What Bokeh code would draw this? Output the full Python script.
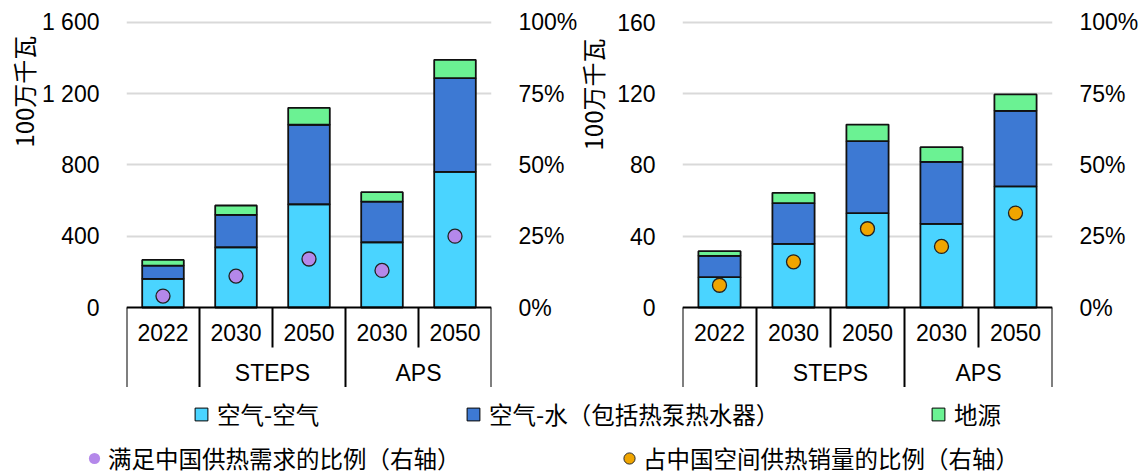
import numpy as np
from bokeh.plotting import figure
from bokeh.models import (ColumnDataSource, Range1d, LinearAxis, FixedTicker,
                          NumeralTickFormatter, Legend, LegendItem)
from bokeh.layouts import column, row
from bokeh.embed import file_html
from bokeh.resources import INLINE
from bokeh.core.properties import value

# ---------------- data ----------------
years = ["2022", "2030", "2050", "2030", "2050"]
scenarios = ["", "STEPS", "STEPS", "APS", "APS"]

# left panel: capacity meeting heating demand (100万千瓦)
demand_air_air = [161, 338, 579, 366, 761]
demand_air_water = [74, 182, 446, 228, 525]
demand_ground = [32, 52, 95, 53, 103]
demand_share = [0.04, 0.11, 0.17, 0.13, 0.25]

# right panel: sales (100万千瓦)
sales_air_air = [17.0, 35.7, 52.9, 46.9, 67.9]
sales_air_water = [12.0, 22.8, 40.4, 34.8, 42.4]
sales_ground = [2.6, 5.8, 9.3, 8.2, 9.2]
sales_share = [0.078, 0.16, 0.276, 0.214, 0.331]

left_ticks = [0, 400, 800, 1200, 1600]
right_ticks = [0, 40, 80, 120, 160]
pct_ticks = [0, 0.25, 0.5, 0.75, 1.0]

series_labels = ["空气-空气", "空气-水（包括热泵热水器）", "地源"]
share_labels = ["满足中国供热需求的比例（右轴）", "占中国空间供热销量的比例（右轴）"]
unit_label = "100万千瓦"

# ---------------- style ----------------
C_AIR = "#4AD4FF"
C_WATER = "#3D79D3"
C_GROUND = "#6BF293"
C_PURPLE = "#B488EA"
C_ORANGE = "#F0A500"
NUM_FONT = "Liberation Sans"
CJK_FONT = "Noto Sans CJK SC"
FS = "23px"

FRAME_H = 367
TOP_BORDER = 20
PANEL_H = FRAME_H + TOP_BORDER
ZERO_FROM_BOTTOM = 80
TOP_PAD = 1.7
SHORT_SEP = 40
YEAR_OFF = 25
GROUP_OFF = 65


def bare(width, height):
    f = figure(width=width, height=height, x_range=Range1d(0, width),
               y_range=Range1d(0, height), x_axis_location=None, y_axis_location=None,
               toolbar_location=None, output_backend="svg", min_border=0)
    f.outline_line_color = None
    f.xgrid.visible = False
    f.ygrid.visible = False
    return f


def unit_strip(width, cx, cy):
    """narrow strip holding the rotated unit label of the value axis"""
    f = bare(width, PANEL_H)
    f.text(x=[cx], y=[PANEL_H - cy], text=[unit_label], angle=np.pi / 2,
           text_align="center", text_baseline="middle",
           text_font=value(CJK_FONT), text_font_size="24px", text_color="black")
    return f


def make_panel(air, water, ground, share, ticks, dot_color, width, bl, br, overrides):
    n = len(years)
    ymax = ticks[-1]
    upp = ymax / (FRAME_H - ZERO_FROM_BOTTOM - TOP_PAD)
    ys = -ZERO_FROM_BOTTOM * upp
    ye = ymax + TOP_PAD * upp
    p = figure(width=width, height=PANEL_H,
               x_range=Range1d(0, n), y_range=Range1d(ys, ye),
               x_axis_location=None, toolbar_location=None, output_backend="svg",
               min_border_left=bl, min_border_right=br,
               min_border_top=TOP_BORDER, min_border_bottom=0)
    p.outline_line_color = None
    p.extra_y_ranges = {"pct": Range1d(ys / ymax, ye / ymax)}

    ax = p.yaxis[0]
    ax.ticker = FixedTicker(ticks=ticks)
    ax.major_label_overrides = overrides
    ax.axis_line_color = None
    ax.major_tick_line_color = None
    ax.minor_tick_line_color = None
    ax.major_label_standoff = 21
    ax.major_label_text_font = NUM_FONT
    ax.major_label_text_font_size = FS
    ax.major_label_text_color = "black"

    rax = LinearAxis(y_range_name="pct", ticker=FixedTicker(ticks=pct_ticks),
                     formatter=NumeralTickFormatter(format="0%"))
    rax.axis_line_color = None
    rax.major_tick_line_color = None
    rax.minor_tick_line_color = None
    rax.major_label_standoff = 21
    rax.major_label_text_font = NUM_FONT
    rax.major_label_text_font_size = FS
    rax.major_label_text_color = "black"
    p.add_layout(rax, "right")

    p.xgrid.visible = False
    p.ygrid.ticker = FixedTicker(ticks=ticks[1:])
    p.ygrid.grid_line_color = "#D9D9D9"
    p.ygrid.grid_line_width = 1.8

    centers = [i + 0.5 for i in range(n)]
    src = ColumnDataSource(dict(x=centers, a=air, b=water, c=ground, s=share))
    p.vbar_stack(["a", "b", "c"], x="x", width=0.57, source=src,
                 fill_color=[C_AIR, C_WATER, C_GROUND],
                 line_color="#111111", line_width=1.8)
    p.scatter("x", "s", source=src, y_range_name="pct", size=14,
              fill_color=dot_color, line_color="#222222", line_width=1.3)

    # category axis drawn inside the extended frame
    p.segment(x0=[0], y0=[0], x1=[n], y1=[0], line_color="black", line_width=2)
    full = [0] + [i for i in range(1, n) if scenarios[i] != scenarios[i - 1]] + [n]
    short = [i for i in range(1, n) if scenarios[i] == scenarios[i - 1]]
    p.segment(x0=full, y0=[0] * len(full), x1=full, y1=[ys] * len(full),
              line_color="black", line_width=2)
    p.segment(x0=short, y0=[0] * len(short), x1=short,
              y1=[-SHORT_SEP * upp] * len(short), line_color="black", line_width=2)
    p.text(x=centers, y=[0] * n, text=years, y_offset=YEAR_OFF,
           text_align="center", text_baseline="middle",
           text_font=value(NUM_FONT), text_font_size=FS, text_color="black")
    groups = [g for k, g in enumerate(scenarios) if g and g not in scenarios[:k]]
    gx = [float(np.mean([centers[i] for i in range(n) if scenarios[i] == g])) for g in groups]
    p.text(x=gx, y=[0] * len(groups), text=groups, y_offset=GROUP_OFF,
           text_align="center", text_baseline="middle",
           text_font=value(NUM_FONT), text_font_size=FS, text_color="black")
    return p


t1 = unit_strip(38, 22.5, 75)
p1 = make_panel(demand_air_air, demand_air_water, demand_ground, demand_share,
                left_ticks, C_PURPLE, 542, 82, 80, {1200: "1 200", 1600: "1 600"})
t2 = unit_strip(34, 12, 78)
p2 = make_panel(sales_air_air, sales_air_water, sales_ground, sales_share,
                right_ticks, C_ORANGE, 527, 62, 89, {})

# ---------------- legend strip ----------------
LEG_H = 88
leg = bare(1141, LEG_H)

# legend proxies: one point each, placed outside the visible range
off = dict(x=[-100], y=[-100])
r_air = leg.scatter(x="x", y="y", source=ColumnDataSource(off), marker="square",
                    fill_color=C_AIR, line_color="black", line_width=1)
r_water = leg.scatter(x="x", y="y", source=ColumnDataSource(off), marker="square",
                      fill_color=C_WATER, line_color="black", line_width=1)
r_ground = leg.scatter(x="x", y="y", source=ColumnDataSource(off), marker="square",
                       fill_color=C_GROUND, line_color="black", line_width=1)
r_purple = leg.scatter(x="x", y="y", source=ColumnDataSource(off),
                       fill_color=C_PURPLE, line_color=None)
r_orange = leg.scatter(x="x", y="y", source=ColumnDataSource(off),
                       fill_color=C_ORANGE, line_color="#2a2a2a", line_width=1)

ITEM_H = 36
ROW1_Y = LEG_H - (27 + ITEM_H // 2)
ROW2_Y = LEG_H - (71 + ITEM_H // 2)
specs = [
    (series_labels[0], r_air, 185, ROW1_Y, 32),
    (series_labels[1], r_water, 457, ROW1_Y, 32),
    (series_labels[2], r_ground, 922, ROW1_Y, 32),
    (share_labels[0], r_purple, 80, ROW2_Y, 28),
    (share_labels[1], r_orange, 615, ROW2_Y, 28),
]
for label, r, lx, ly, gw in specs:
    lg = Legend(items=[LegendItem(label=label, renderers=[r])], location=(lx, ly),
                orientation="horizontal", padding=0, margin=0, spacing=0,
                border_line_color=None, background_fill_alpha=0,
                glyph_width=gw, glyph_height=ITEM_H, label_height=ITEM_H,
                label_standoff=0,
                label_text_font=CJK_FONT, label_text_font_size="23.5px",
                label_text_color="black")
    leg.add_layout(lg)

layout = column(row(t1, p1, t2, p2), leg)
open("out.html", "w").write(file_html(layout, INLINE))
